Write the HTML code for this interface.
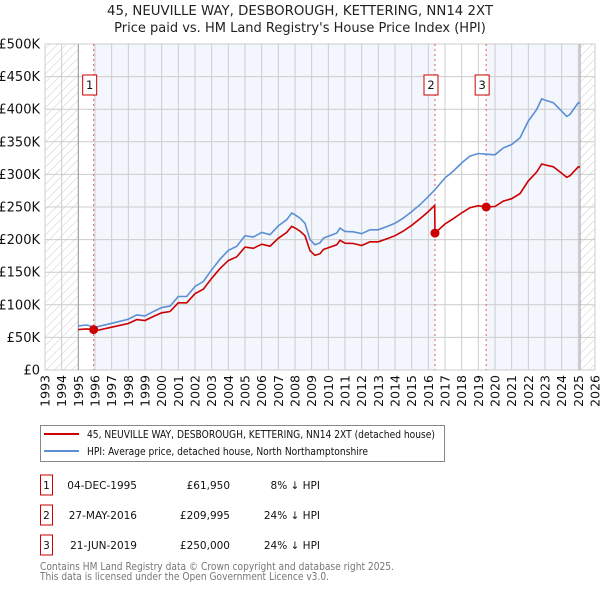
<!DOCTYPE html>
<html><head><meta charset="utf-8"><style>
body{margin:0;background:#fff;font-family:"Liberation Sans","DejaVu Sans",sans-serif;}
svg text{font-family:"DejaVu Sans","Liberation Sans",sans-serif;}
</style></head><body>
<svg id="chart" width="600" height="590" viewBox="0 0 600 590" xmlns="http://www.w3.org/2000/svg">
<defs><pattern id="hatch" width="6" height="6" patternUnits="userSpaceOnUse" patternTransform="rotate(45)"><line x1="0" y1="0" x2="0" y2="6" stroke="#ccc" stroke-width="1"/></pattern></defs>
<text x="300" y="15" text-anchor="middle" font-size="13" fill="#222" textLength="386" lengthAdjust="spacingAndGlyphs">45, NEUVILLE WAY, DESBOROUGH, KETTERING, NN14 2XT</text>
<text x="300" y="32" text-anchor="middle" font-size="13" fill="#222">Price paid vs. HM Land Registry's House Price Index (HPI)</text>
<g id="plot"></g>
<g>
<rect x="40.5" y="425.5" width="404" height="36" fill="#fff" stroke="#888"/>
<line x1="44" y1="434" x2="79" y2="434" stroke="#cc0000" stroke-width="2"/>
<text x="87" y="438" font-size="10.5" fill="#111" textLength="348" lengthAdjust="spacingAndGlyphs">45, NEUVILLE WAY, DESBOROUGH, KETTERING, NN14 2XT (detached house)</text>
<line x1="44" y1="451" x2="79" y2="451" stroke="#5b8fd4" stroke-width="2"/>
<text x="87" y="455" font-size="10.5" fill="#111" textLength="281" lengthAdjust="spacingAndGlyphs">HPI: Average price, detached house, North Northamptonshire</text>
</g>
<g id="table" font-size="10.5" fill="#111"></g>
<text x="40" y="570" font-size="10.5" fill="#777" textLength="354" lengthAdjust="spacingAndGlyphs">Contains HM Land Registry data © Crown copyright and database right 2025.</text>
<text x="40" y="580" font-size="10.5" fill="#777" textLength="289" lengthAdjust="spacingAndGlyphs">This data is licensed under the Open Government Licence v3.0.</text>
</svg>
<script>
const hpiYears=[1995.0,1995.5,1995.92,1996,1997,1998,1998.5,1999,1999.5,2000,2000.5,2001,2001.5,2002,2002.5,2003,2003.5,2004,2004.5,2005,2005.5,2006,2006.5,2007,2007.5,2007.8,2008,2008.3,2008.6,2008.9,2009.2,2009.5,2009.7,2010,2010.5,2010.7,2011,2011.5,2012,2012.5,2013,2013.5,2014,2014.5,2015,2015.5,2016,2016.38,2017,2017.5,2018,2018.5,2019,2019.47,2020,2020.5,2021,2021.5,2022,2022.5,2022.8,2023,2023.5,2024,2024.3,2024.5,2025,2025.1];
const hpiValues=[67.6,69,66,65.5,71.7,77.9,84.5,83,89.6,95.8,98,112.7,112.7,128,135.7,153.7,170,183.4,189.5,206,204,211,207.5,221,230.5,240.8,238,233,225,200,192,195,202,205,210,217.7,212.6,212,209,215,215,220,225,233,243,253.6,266,276,294.6,305,317.6,328,332,331,330,340.7,345.8,356,381.7,399.6,416,414,410,397,389,392,410,409];
const priceYears=[1995.0,1995.5,1995.92,1996,1997,1998,1998.5,1999,1999.5,2000,2000.5,2001,2001.5,2002,2002.5,2003,2003.5,2004,2004.5,2005,2005.5,2006,2006.5,2007,2007.5,2007.8,2008,2008.3,2008.6,2008.9,2009.2,2009.5,2009.7,2010,2010.5,2010.7,2011,2011.5,2012,2012.5,2013,2013.5,2014,2014.5,2015,2015.5,2016,2016.38,2016.4,2017,2017.5,2018,2018.5,2019,2019.47,2020,2020.5,2021,2021.5,2022,2022.5,2022.8,2023,2023.5,2024,2024.3,2024.5,2025,2025.1];
const priceValues=[61.9,63.1,61.95,60,65.6,71.3,77.3,75.9,82,87.7,89.7,103,103,117,124,140.6,155.5,167.8,173.4,188.5,186.7,193,189.9,202,211,220.3,217.8,213,206,183,175.7,178.4,184.8,187.6,192,199,194.5,194,191,196.7,196.7,201,206,213,222,232,243,252.5,210,224,232,241,249,252,250,250.8,259,262.8,270.6,290,303.7,316,314.6,311.6,301.7,295.6,298,311.6,310.8];
const saleYears=[1995.92,2016.40,2019.47];
const saleValues=[61.95,209.995,250];
const saleDates=["04-DEC-1995","27-MAY-2016","21-JUN-2019"];
const salePrices=["£61,950","£209,995","£250,000"];
const saleDiffs=["8% ↓ HPI","24% ↓ HPI","24% ↓ HPI"];
const yTicks=[0,50,100,150,200,250,300,350,400,450,500];
const yTickLabels=["£0","£50K","£100K","£150K","£200K","£250K","£300K","£350K","£400K","£450K","£500K"];
const xTicks=[1993,1994,1995,1996,1997,1998,1999,2000,2001,2002,2003,2004,2005,2006,2007,2008,2009,2010,2011,2012,2013,2014,2015,2016,2017,2018,2019,2020,2021,2022,2023,2024,2025,2026];

const NS="http://www.w3.org/2000/svg";
const L=45,R=595,T=44,B=370,X0=1993,X1=2026,YMAX=500;
const xs=v=>L+(v-X0)/(X1-X0)*(R-L);
const ys=v=>B-v/YMAX*(B-T);
const plot=document.getElementById('plot');
function mk(tag,attrs,parent){const e=document.createElementNS(NS,tag);for(const k in attrs)e.setAttribute(k,attrs[k]);(parent||plot).appendChild(e);return e;}

let e;
e=mk('rect',{x:L,y:T,width:R-L,height:B-T,fill:'#fff'});


e=mk('rect',{x:xs(saleYears[0]),y:T,width:xs(saleYears[1])-xs(saleYears[0]),height:B-T,fill:'#f3f6fd'});


e=mk('rect',{x:xs(saleYears[2]),y:T,width:xs(2025.1)-xs(saleYears[2]),height:B-T,fill:'#f3f6fd'});


e=mk('rect',{x:L,y:T,width:xs(1995)-L,height:B-T,fill:'url(#hatch)'});


e=mk('rect',{x:xs(2025.1),y:T,width:R-xs(2025.1),height:B-T,fill:'url(#hatch)'});



yTicks.forEach((v,i)=>{
  const g=mk('line',{x1:L,x2:R,y1:ys(v),y2:ys(v),stroke:'#cccccc','stroke-width':1});
  
  
  const t=mk('text',{x:L-5,y:ys(v)+4.5,'text-anchor':'end','font-size':13,fill:'#111'});
  t.textContent=yTickLabels[i];
  
  
});
xTicks.forEach(v=>{
  const g=mk('line',{x1:xs(v),x2:xs(v),y1:T,y2:B,stroke:'#cccccc','stroke-width':1});
  
  
  const t=mk('text',{x:0,y:0,'text-anchor':'end','font-size':12.5,fill:'#111',transform:`translate(${xs(v)+4.5},${B+5}) rotate(-90)`});
  t.textContent=String(v);
  
  
});
e=mk('line',{x1:xs(1995),x2:xs(1995),y1:T,y2:B,stroke:'#999','stroke-width':1});


e=mk('line',{x1:xs(2025.1),x2:xs(2025.1),y1:T,y2:B,stroke:'#999','stroke-width':1});



saleYears.forEach((y,i)=>{
  const l=mk('line',{x1:xs(y),x2:xs(y),y1:T,y2:B,stroke:'#e06060','stroke-width':1,'stroke-dasharray':'2,3'});
  
  
});

const path=(xa,va)=>xa.map((x,i)=>(i?'L':'M')+xs(x).toFixed(1)+','+ys(va[i]).toFixed(1)).join(' ');
e=mk('path',{d:path(hpiYears,hpiValues),fill:'none',stroke:'#5b8fd4','stroke-width':1.6});


e=mk('path',{d:path(priceYears,priceValues),fill:'none',stroke:'#cc0000','stroke-width':1.6});



saleYears.forEach((y,i)=>{
  const c=mk('circle',{cx:xs(y),cy:ys(saleValues[i]),r:4.5,fill:'#cc0000'});
  
  
  const bx=xs(y)-11;
  const r=mk('rect',{x:bx,y:75,width:14,height:20,fill:'#fff',stroke:'#cc0000','stroke-width':1});
  
  
  const t=mk('text',{x:bx+7,y:89,'text-anchor':'middle','font-size':11.5,fill:'#111'});
  t.textContent=String(i+1);
  
  
});

const table=document.getElementById('table');
saleDates.forEach((d,i)=>{
  const cy=485+i*30;
  const r=mk('rect',{x:40.5,y:cy-10,width:12,height:20,fill:'#fff',stroke:'#cc0000','stroke-width':1},table);
  
  
  const n=mk('text',{x:46.5,y:cy+4,'text-anchor':'middle'},table);n.textContent=String(i+1);
  
  
  const a=mk('text',{x:137,y:cy+4,'text-anchor':'end'},table);a.textContent=d;
  
  
  const p=mk('text',{x:230,y:cy+4,'text-anchor':'end'},table);p.textContent=salePrices[i];
  
  
  const h=mk('text',{x:320,y:cy+4,'text-anchor':'end'},table);h.textContent=saleDiffs[i];
  
  
});
</script>
</body></html>
